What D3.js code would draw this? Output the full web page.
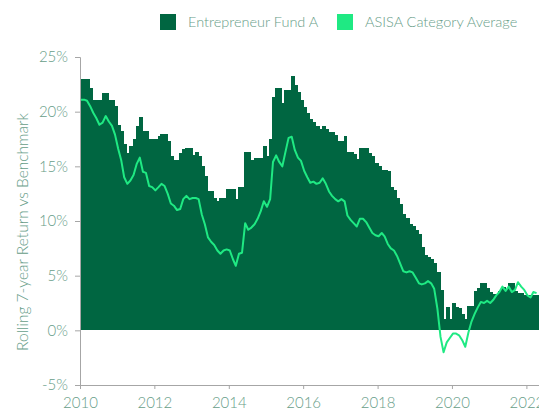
<!DOCTYPE html>
<html>
<head>
<meta charset="utf-8">
<script src="https://cdn.jsdelivr.net/npm/d3@7"></script>
<style>
  body { margin: 0; background: #fff; }
  svg { display: block; font-family: Lato, "Open Sans", sans-serif; font-weight: 300; }
</style>
</head>
<body>
<div id="chart"></div>
<script>
// monthly values, starting Jan 2010
var startYear = 2010;
var fundValues = [
  23.0, 23.0, 23.0, 22.2, 21.1, 21.1, 21.1, 21.7, 21.7, 21.1, 21.1, 20.5,
  18.8, 18.2, 17.0, 16.2, 16.9, 17.5, 18.7, 19.5, 18.2, 18.2, 17.5, 17.5,
  17.5, 17.8, 18.0, 18.0, 17.3, 15.9, 15.6, 15.6, 16.2, 16.6, 16.7, 16.7,
  16.0, 16.3, 15.9, 15.0, 14.1, 12.7, 12.7, 12.1, 11.8, 12.1, 12.1, 12.9,
  12.9, 12.9, 12.0, 13.1, 13.1, 16.3, 16.3, 15.6, 15.8, 15.8, 15.8, 16.9,
  15.9, 17.5, 21.3, 22.2, 22.2, 20.8, 22.0, 22.0, 23.3, 22.4, 21.8, 21.1,
  20.4, 19.9, 19.3, 19.1, 18.7, 18.4, 18.7, 18.4, 18.1, 18.1, 17.9, 17.3,
  17.3, 17.8, 16.3, 16.3, 16.1, 15.7, 16.7, 16.7, 16.7, 16.2, 15.9, 15.3,
  15.0, 14.7, 14.7, 14.6, 13.1, 12.8, 12.1, 11.6, 10.6, 10.3, 9.7, 9.5,
  9.2, 8.8, 7.6, 6.9, 6.7, 6.5, 6.2, 5.3, 3.7, 1.0, 2.1, 1.0,
  2.5, 2.1, 2.0, 1.5, 1.0, 2.2, 2.2, 3.6, 3.9, 4.3, 4.3, 3.9,
  3.5, 3.3, 3.3, 3.6, 4.0, 3.8, 4.3, 4.3, 3.6, 3.4, 3.4, 3.2,
  3.2, 3.2, 3.2, 3.2
];
var categoryValues = [
  21.1, 21.1, 21.0, 20.5, 19.9, 19.4, 18.8, 19.0, 19.6, 19.1, 18.7, 17.9,
  16.6, 15.5, 14.0, 13.4, 13.7, 14.2, 15.2, 15.8, 14.5, 14.4, 13.2, 13.1,
  12.8, 13.1, 13.4, 13.2, 12.5, 11.6, 11.4, 11.0, 11.1, 12.0, 12.3, 12.0,
  12.1, 12.1, 12.0, 10.6, 9.7, 8.5, 8.1, 7.8, 7.3, 7.0, 7.3, 7.4,
  7.3, 6.5, 5.9, 7.0, 7.1, 9.8, 9.2, 9.4, 9.7, 10.2, 10.9, 11.8,
  11.3, 12.0, 15.4, 16.0, 15.4, 15.0, 16.3, 17.6, 17.7, 16.5, 15.8, 15.5,
  14.6, 14.0, 13.5, 13.6, 13.4, 13.5, 13.9, 13.4, 12.7, 12.3, 12.0, 11.8,
  12.0, 11.8, 10.5, 10.1, 9.8, 9.5, 10.2, 10.2, 9.9, 9.4, 8.9, 8.7,
  8.6, 8.9, 8.6, 7.9, 7.5, 7.3, 6.8, 6.1, 5.4, 5.3, 5.4, 5.3,
  4.8, 4.3, 4.2, 4.3, 4.5, 4.3, 3.8, 2.0, -0.6, -2.0, -1.1, -0.7,
  -0.3, -0.3, -0.45, -0.9, -1.5, -0.2, 0.8, 1.5, 2.1, 2.6, 2.5, 2.7,
  2.5, 2.8, 3.2, 3.5, 4.0, 3.6, 4.0, 3.5, 3.7, 4.4, 4.0, 3.7,
  3.2, 3.0, 3.5, 3.4
];
var seriesNames = ["Entrepreneur Fund A", "ASISA Category Average"];
var yTicks = [-5, 0, 5, 10, 15, 20, 25];

function init() {
    var w = 539;
    var h = 411;
    var left = 80;
    var top = 57;
    var bottom = 385;

    var colors = ["#006641", "#1fe983"];
    var textColor = "#679d88";
    var axisColor = "#a6a6a6";

    var data = fundValues.map(function(v, i) {
        return {date: new Date(startYear, i, 1), next: new Date(startYear, i + 1, 1), fund: v, cat: categoryValues[i]};
    });

    var svg = d3.select("#chart")
        .append("svg")
        .attr("width", w)
        .attr("height", h);

    // Scales
    var xScale = d3.scaleTime()
        .domain([new Date(2010, 0, 1), new Date(2022, 0, 1)])
        .range([left, 526.4]);

    var yScale = d3.scaleLinear()
        .domain([-5, 25])
        .range([bottom, top]);

    // Bars (no gaps between months)
    svg.append("g")
        .attr("shape-rendering", "crispEdges")
        .selectAll("rect")
        .data(data)
        .enter()
        .append("rect")
        .attr("fill", colors[0])
        .attr("x", d => xScale(d.date))
        .attr("width", d => xScale(d.next) - xScale(d.date) + 1)
        .attr("y", d => yScale(Math.max(0, d.fund)))
        .attr("height", d => Math.abs(yScale(d.fund) - yScale(0)));

    // Category line
    var line = d3.line()
        .x(d => xScale(d.date) + 1)
        .y(d => yScale(d.cat));

    svg.append("path")
        .datum(data)
        .attr("fill", "none")
        .attr("stroke", colors[1])
        .attr("stroke-width", 2)
        .attr("stroke-linejoin", "round")
        .attr("d", line);

    // Axes
    var xAxis = d3.axisBottom(xScale)
        .ticks(d3.timeYear.every(2))
        .tickFormat(d3.timeFormat("%Y"))
        .tickSizeOuter(0)
        .tickSize(4);

    var yAxis = d3.axisLeft(yScale)
        .tickValues(yTicks)
        .tickFormat(d => d + "%")
        .tickSizeOuter(0)
        .tickSize(5);

    var gx = svg.append("g")
        .attr("transform", `translate(0,${bottom})`)
        .call(xAxis);
    gx.select(".domain").attr("stroke", axisColor).attr("d", `M${left},0.5H${w}`);
    gx.selectAll(".tick line").attr("stroke", axisColor);
    gx.selectAll("text")
        .attr("fill", textColor)
        .attr("font-size", "15px")
        .attr("dy", "1.05em");

    var gy = svg.append("g")
        .attr("transform", `translate(${left},0)`)
        .call(yAxis);
    gy.select(".domain").attr("stroke", axisColor);
    gy.selectAll(".tick line").attr("stroke", axisColor);
    gy.selectAll("text")
        .attr("fill", textColor)
        .attr("font-size", "15px")
        .attr("x", -12);
    svg.selectAll(".tick text").attr("font-family", "Lato, 'Open Sans', sans-serif").attr("font-weight", 300);

    // Y label
    svg.append("text")
        .attr("transform", `translate(28,232)rotate(-90)`)
        .attr("text-anchor", "middle")
        .attr("fill", textColor)
        .attr("font-size", "15.5px")
        .text("Rolling 7-year Return vs Benchmark");

    // Legend
    var legendX = [160, 337];
    var legend = svg.append("g")
        .selectAll("g")
        .data(seriesNames)
        .enter()
        .append("g")
        .attr("transform", (d, i) => `translate(${legendX[i]},14)`);
    legend.append("rect")
        .attr("width", 16)
        .attr("height", 16)
        .attr("fill", (d, i) => colors[i]);
    legend.append("text")
        .attr("x", 28)
        .attr("y", 13)
        .attr("fill", textColor)
        .attr("font-size", "14.5px")
        .text(d => d);
}

window.onload = init;
</script>
</body>
</html>
